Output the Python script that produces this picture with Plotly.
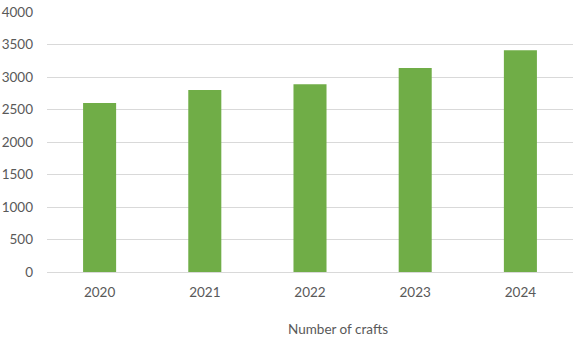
import plotly.graph_objects as go

years = ["2020", "2021", "2022", "2023", "2024"]
crafts = [2600, 2800, 2890, 3140, 3410]
y_ticks = [0, 500, 1000, 1500, 2000, 2500, 3000, 3500, 4000]
x_title = "Number of crafts"

font_col = "#595959"
fig = go.Figure(go.Bar(x=years, y=crafts, marker_color="#70ad47", marker_line_width=0))
fig.update_layout(
    width=582, height=338,
    margin=dict(l=47, r=9, t=12, b=66),
    plot_bgcolor="white", paper_bgcolor="white",
    bargap=0.686,
    font=dict(family="Lato, Open Sans, sans-serif", size=13.5, color=font_col),
    showlegend=False,
)
fig.update_yaxes(
    range=[0, 4000], tickvals=y_ticks, showgrid=True, gridcolor="#d9d9d9", gridwidth=1,
    zeroline=False, showline=False, ticklabelstandoff=13, automargin=False,
)
fig.update_xaxes(
    showline=True, linecolor="#d9d9d9", linewidth=1, ticklabelstandoff=8, automargin=False,
)
fig.add_annotation(
    text=x_title, xref="paper", yref="paper", x=0.553, y=-0.218,
    xanchor="center", yanchor="middle", showarrow=False,
    font=dict(size=13.5, color=font_col),
)
fig.write_html("out.html")
